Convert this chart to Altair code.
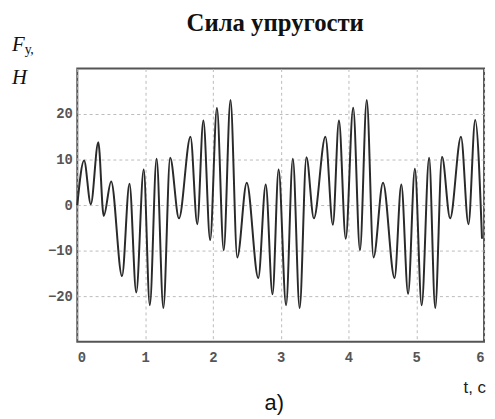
import altair as alt
import pandas as pd

# Extrema of the elastic force curve
t_values = [0.00, 0.10, 0.20, 0.31, 0.39, 0.50, 0.66, 0.77, 0.87, 0.98,
            1.07, 1.17, 1.27, 1.37, 1.50, 1.67, 1.77, 1.86, 1.96, 2.06,
            2.16, 2.26, 2.36, 2.50, 2.67, 2.78, 2.88, 2.97, 3.08, 3.18,
            3.28, 3.38, 3.49, 3.66, 3.77, 3.86, 3.96, 4.07, 4.17, 4.27,
            4.37, 4.51, 4.68, 4.78, 4.88, 4.98, 5.08, 5.19, 5.28, 5.38,
            5.50, 5.66, 5.77, 5.87, 5.97]
f_values = [0.0, 9.8, 0.2, 13.8, -2.4, 5.2, -15.6, 4.7, -19.2, 7.8,
            -22.0, 10.2, -22.6, 10.4, -2.9, 15.0, -4.2, 18.6, -7.7, 21.3,
            -9.9, 23.1, -11.5, 4.9, -16.0, 4.5, -19.6, 7.8, -22.0, 10.2,
            -22.6, 10.5, -2.9, 15.0, -4.3, 18.6, -7.4, 21.4, -9.9, 23.1,
            -11.5, 4.9, -16.0, 4.5, -19.5, 8.0, -22.0, 10.4, -22.6, 10.6,
            -2.9, 15.0, -4.2, 18.7, -7.4]
x_ticks = [0, 1, 2, 3, 4, 5, 6]
y_ticks = [-20, -10, 0, 10, 20]

df = pd.DataFrame({"t": t_values, "F": f_values})

W, H = 411, 276

line = alt.Chart(df).mark_line(
    interpolate="monotone", color="#2a2a2a", strokeWidth=2
).encode(
    x=alt.X("t:Q", scale=alt.Scale(domain=[0, 6], nice=False),
            axis=alt.Axis(values=x_ticks, title=None, grid=True, ticks=False,
                          domain=False, labelPadding=9, format="d")),
    y=alt.Y("F:Q", scale=alt.Scale(domain=[-30, 30], nice=False),
            axis=alt.Axis(values=y_ticks, title=None, grid=True, ticks=False,
                          domain=False, labelPadding=5, format="d")),
)

one = pd.DataFrame({"k": [0]})

def label(text, x, y, font, size, weight="normal", style="normal",
          align="left", color="#111"):
    return alt.Chart(one).mark_text(
        text=text, font=font, fontSize=size, fontWeight=weight,
        fontStyle=style, align=align, baseline="alphabetic", color=color
    ).encode(x=alt.value(x), y=alt.value(y))

title = label("Сила упругости", 200, -38, "Liberation Serif", 25,
              weight="bold", align="center")
f_lab = label("F", -66, -18, "Liberation Serif", 21, style="italic")
sub_lab = label("у,", -53, -15, "Liberation Serif", 14)
h_lab = label("H", -66, 16, "Liberation Serif", 21, style="italic")
t_lab = label("t, c", 413, 328, "Liberation Sans", 17, align="right",
              color="#222")
a_lab = label("а)", 199, 345, "Liberation Sans", 22, align="center")

chart = alt.layer(line, title, f_lab, sub_lab, h_lab, t_lab, a_lab).properties(
    width=W, height=H,
    autosize=alt.AutoSizeParams(type="none"),
    padding={"left": 70, "top": 59, "right": 3, "bottom": 72},
).configure_view(
    stroke="#555", strokeWidth=2
).configure_axis(
    gridColor="#bbb", gridDash=[3, 3], gridWidth=1,
    labelFont="Liberation Mono", labelFontSize=14, labelColor="#555",
    labelFontWeight="bold"
)

chart.save("out.html", embed_options={"renderer": "svg", "actions": False})
